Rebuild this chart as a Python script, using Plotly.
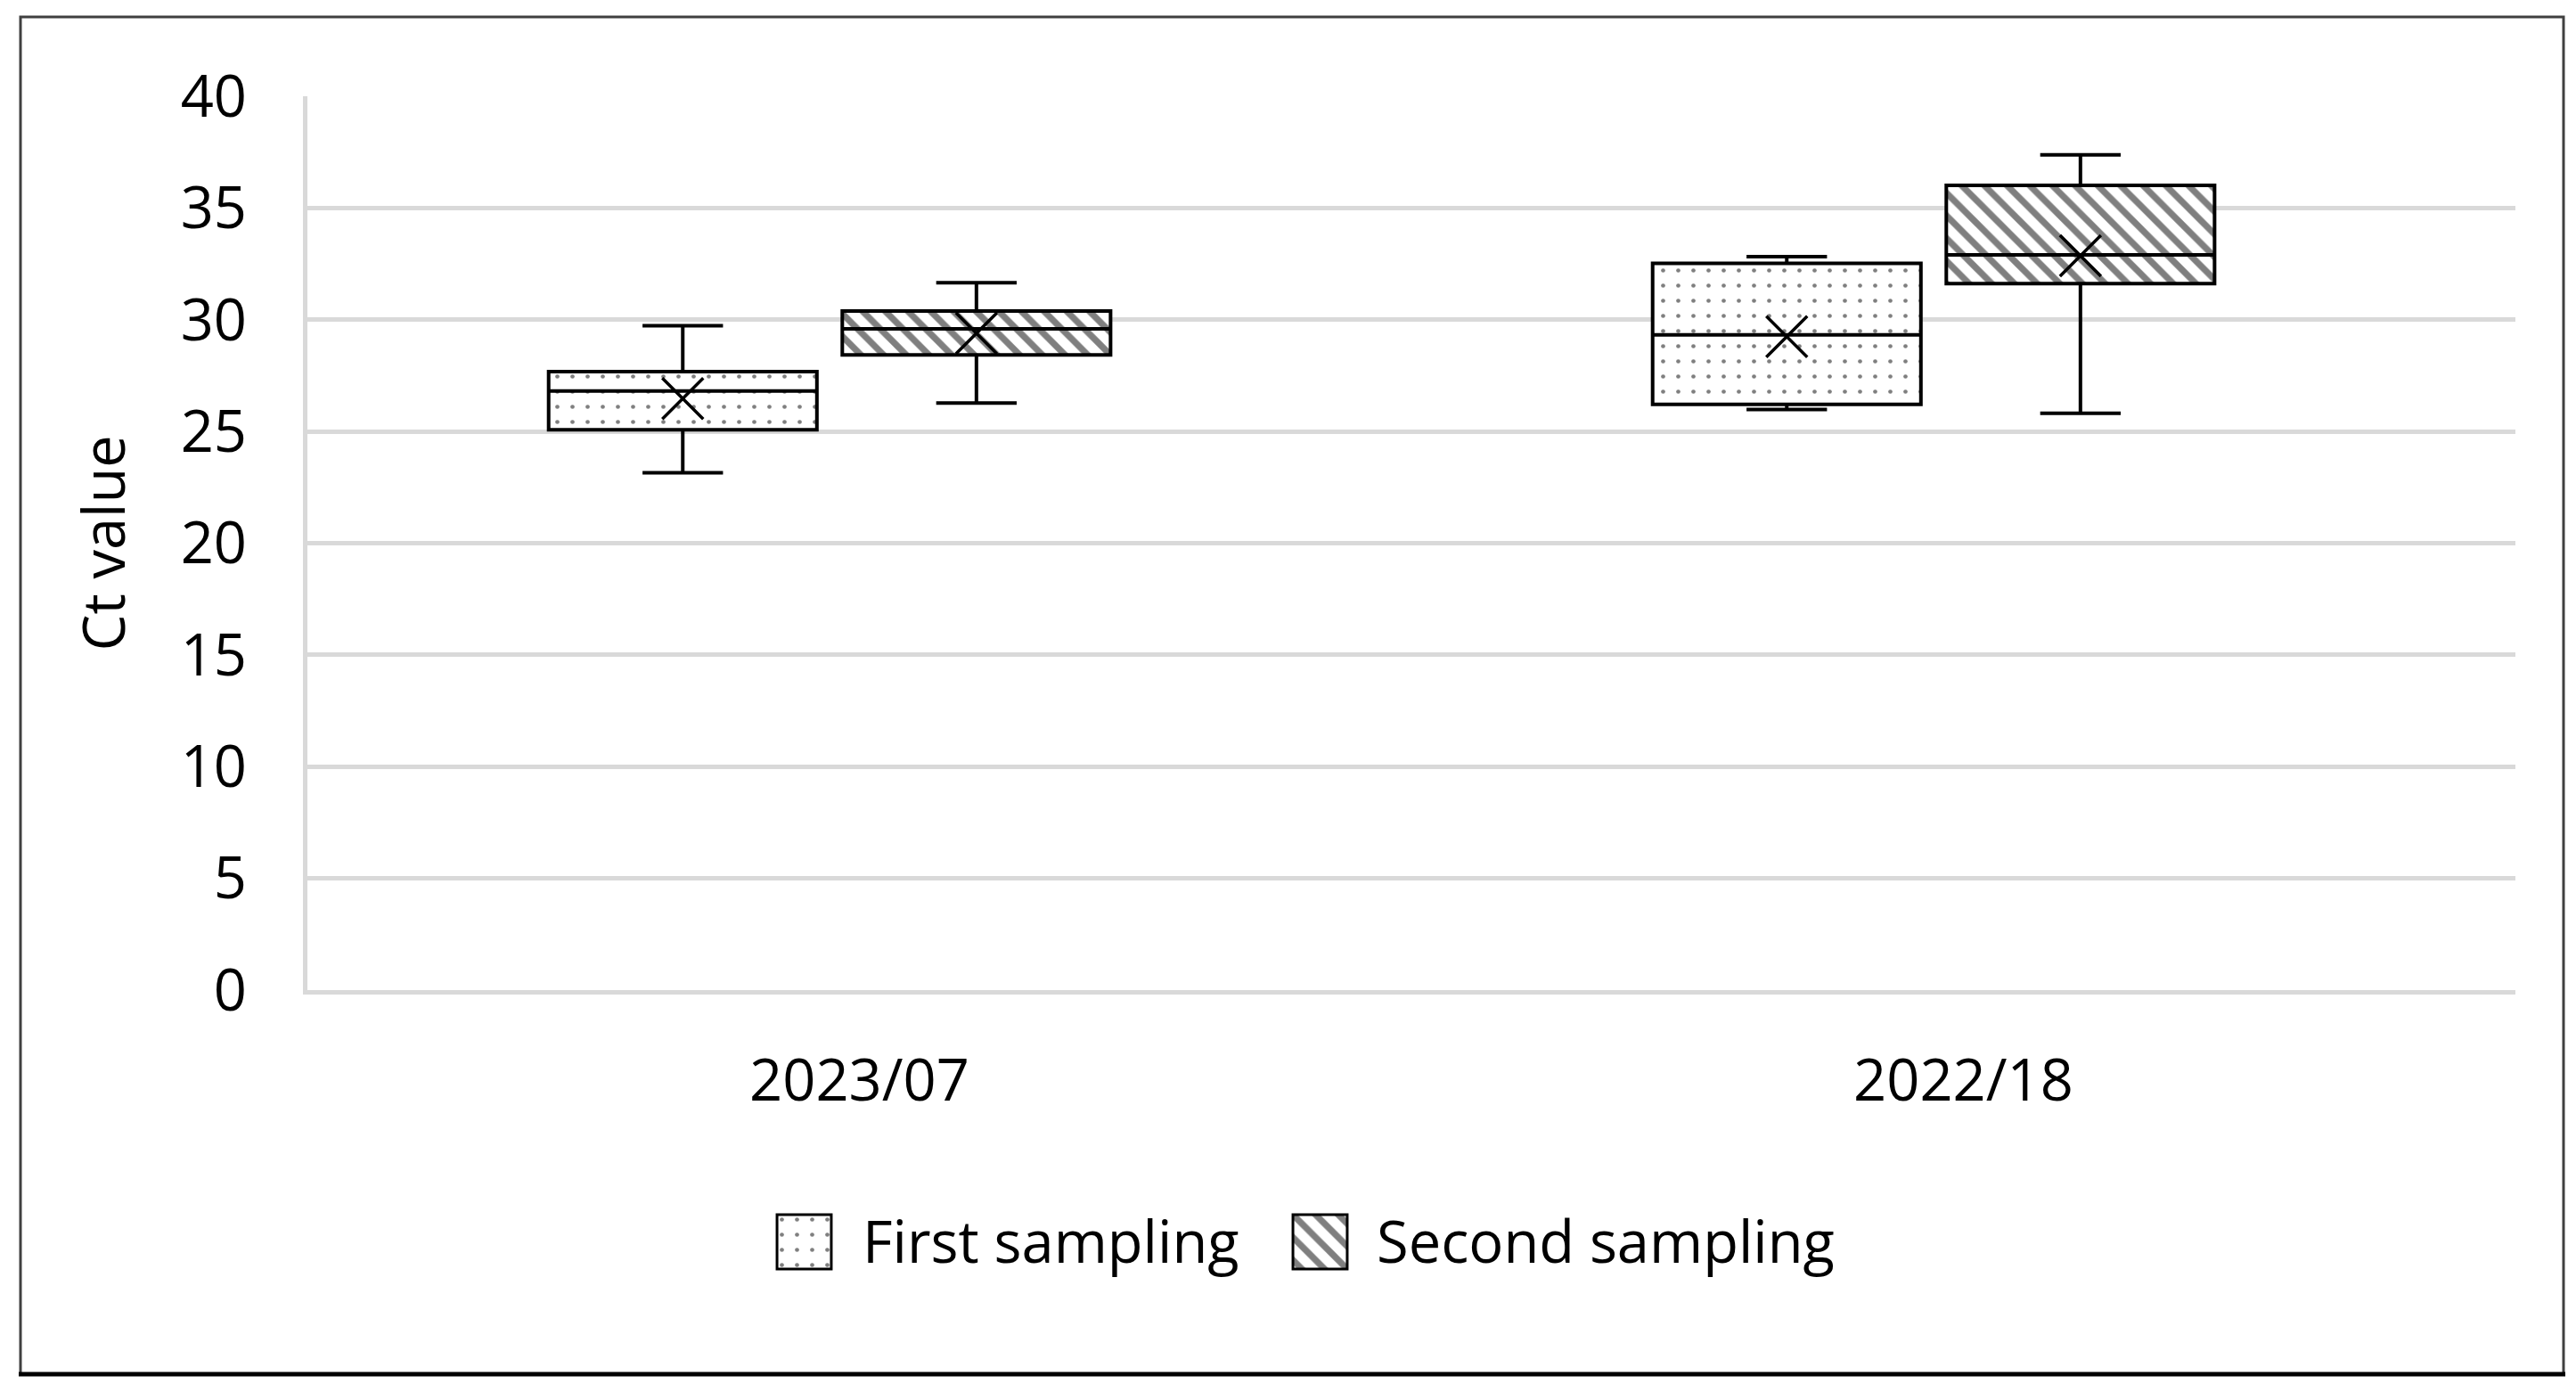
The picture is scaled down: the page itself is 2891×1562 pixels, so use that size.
import plotly.graph_objects as go

# ---------------- data ----------------
categories = ["2023/07", "2022/18"]
series_names = ["First sampling", "Second sampling"]

first_lower = [23.15, 25.98]
first_q1 = [25.07, 26.21]
first_median = [26.81, 29.32]
first_q3 = [27.68, 32.52]
first_upper = [29.73, 32.82]
first_mean = [26.47, 29.24]

second_lower = [26.27, 25.81]
second_q1 = [28.42, 31.62]
second_median = [29.59, 32.90]
second_q3 = [30.39, 36.01]
second_upper = [31.66, 37.38]
second_mean = [29.39, 32.86]

y_ticks = [0, 5, 10, 15, 20, 25, 30, 35, 40]
y_title = "Ct value"

# ---------------- layout constants ----------------
PAGE_W, PAGE_H = 2891, 1562
BODY = 8  # default page margin around the figure
W, H = PAGE_W - BODY, PAGE_H - BODY


def px_x(x):
    return (x - BODY) / W


def px_y(y):
    return 1 - (y - BODY) / H


PLOT_L, PLOT_R, PLOT_T, PLOT_B = 345, 2823, 108, 1111
BOX_W = 0.243
OFFSETS = [-0.16, 0.106]
FONT = "Open Sans"
FS = 65
GRID = "#d9d9d9"

patterns = [
    dict(shape=".", size=17, solidity=0.06),
    dict(shape="\\", size=18, solidity=0.4),
]

series = [
    dict(lower=first_lower, q1=first_q1, median=first_median, q3=first_q3,
         upper=first_upper, mean=first_mean),
    dict(lower=second_lower, q1=second_q1, median=second_median, q3=second_q3,
         upper=second_upper, mean=second_mean),
]

fig = go.Figure()

for i, s in enumerate(series):
    xs = [c + OFFSETS[i] for c in range(len(categories))]
    fig.add_trace(go.Bar(
        x=xs, base=s["q1"], y=[b - a for a, b in zip(s["q1"], s["q3"])],
        width=BOX_W, name=series_names[i],
        marker=dict(color="white", line=dict(width=0),
                    pattern=dict(fgcolor="black", fillmode="overlay", **patterns[i])),
        showlegend=False, hoverinfo="skip",
    ))
    fig.add_trace(go.Box(
        x=xs, q1=s["q1"], median=s["median"], q3=s["q3"],
        lowerfence=s["lower"], upperfence=s["upper"],
        width=BOX_W, fillcolor="rgba(0,0,0,0)",
        line=dict(color="black", width=4), whiskerwidth=0.3,
        boxpoints=False, showlegend=False, name=series_names[i],
    ))
    fig.add_trace(go.Scatter(
        x=xs, y=s["mean"], mode="markers", showlegend=False,
        marker=dict(symbol="x-thin-open", size=46, color="black",
                    line=dict(width=3.5, color="black")),
        hoverinfo="skip",
    ))

# legend swatches (custom, to match the large pattern boxes)
sw_centers = [902.5, 1481.5]
sw_cy = 1393.5
sw_half = 33.5
for i in range(2):
    ax = str(i + 2)
    fig.add_trace(go.Bar(
        x=[0], y=[1], base=[0], width=1, xaxis="x" + ax, yaxis="y" + ax,
        marker=dict(color="white", line=dict(width=3, color="black"),
                    pattern=dict(fgcolor="black", fillmode="overlay", **patterns[i])),
        showlegend=False, hoverinfo="skip",
    ))
    fig.layout["xaxis" + ax] = dict(
        domain=[px_x(sw_centers[i] - sw_half), px_x(sw_centers[i] + sw_half)],
        range=[-0.55, 0.55], visible=False, anchor="y" + ax, fixedrange=True,
        automargin=False)
    fig.layout["yaxis" + ax] = dict(
        domain=[px_y(sw_cy + sw_half), px_y(sw_cy - sw_half)],
        range=[-0.05, 1.05], visible=False, anchor="x" + ax, fixedrange=True,
        automargin=False)

legend_text_x = [966, 1543]
annotations = []
for i in range(2):
    annotations.append(dict(
        text=series_names[i], x=px_x(legend_text_x[i]), y=px_y(1392),
        xref="paper", yref="paper", xanchor="left", yanchor="middle",
        showarrow=False, font=dict(family=FONT, size=FS, color="black")))
annotations.append(dict(
    text=y_title, x=px_x(114), y=px_y((PLOT_T + PLOT_B) / 2),
    xref="paper", yref="paper", xanchor="center", yanchor="middle",
    textangle=-90, showarrow=False,
    font=dict(family=FONT, size=FS, color="black")))

shapes = [
    dict(type="rect", xref="paper", yref="paper",
         x0=px_x(23), x1=px_x(2877), y0=px_y(1542), y1=px_y(19),
         line=dict(color="#404040", width=3), fillcolor="rgba(0,0,0,0)"),
    dict(type="line", xref="paper", yref="paper",
         x0=px_x(21), x1=px_x(2879), y0=px_y(1542), y1=px_y(1542),
         line=dict(color="black", width=5)),
]

fig.update_layout(
    width=W, height=H,
    margin=dict(l=0, r=0, t=0, b=0, autoexpand=False),
    paper_bgcolor="white", plot_bgcolor="white",
    barmode="overlay", boxmode="overlay",
    showlegend=False,
    font=dict(family=FONT, size=FS, color="black"),
    xaxis=dict(
        domain=[px_x(PLOT_L), px_x(PLOT_R)],
        range=[-0.5, len(categories) - 0.5],
        tickvals=list(range(len(categories))), ticktext=categories,
        showgrid=False, zeroline=False,
        showline=True, linecolor=GRID, linewidth=5,
        ticks="", ticklabelstandoff=41, automargin=False,
        tickfont=dict(family=FONT, size=FS, color="black"),
        anchor="y", fixedrange=True,
    ),
    yaxis=dict(
        domain=[px_y(PLOT_B), px_y(PLOT_T)],
        range=[0, 40], tickvals=y_ticks,
        showgrid=True, gridcolor=GRID, gridwidth=5,
        zeroline=False, showline=True, linecolor=GRID, linewidth=5,
        ticks="", ticklabelstandoff=50, automargin=False,
        tickfont=dict(family=FONT, size=FS, color="black"),
        anchor="x", fixedrange=True,
    ),
    annotations=annotations,
    shapes=shapes,
)

fig.write_html("out.html")
